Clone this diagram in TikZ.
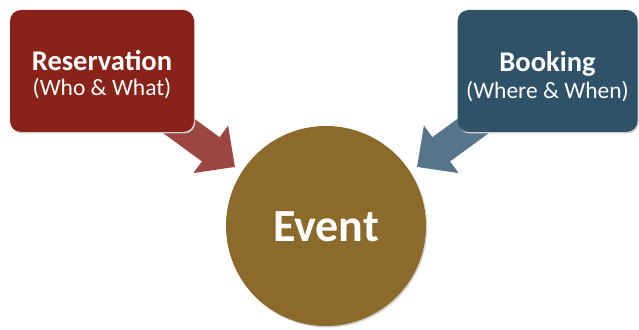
\documentclass[tikz,border=0pt]{standalone}
\usepackage{fontspec}
\setmainfont{Carlito}
\usetikzlibrary{arrows.meta}
\definecolor{boxred}{RGB}{137,35,26}
\definecolor{boxblue}{RGB}{47,82,104}
\definecolor{arrred}{RGB}{156,70,66}
\definecolor{arrblue}{RGB}{86,117,138}
\definecolor{evbrown}{RGB}{140,106,43}
\tikzset{
  infobox/.style={rounded corners=11pt, minimum width=#1, minimum height=122pt, inner sep=0pt, text=white, align=center},
  blockarrow/.style={line width=30pt, -{Triangle[length=30pt,width=57pt]}, draw=#1},
  evcircle/.style={circle, fill=evbrown, minimum size=200pt, inner sep=0pt, text=white},
  shadowed/.style={preaction={fill=black!18, transform canvas={xshift=1.2pt,yshift=-1.5pt}}},
  titletext/.style={font=\bfseries\fontsize{28.5}{31}\selectfont, inner sep=0pt, text=white},
  subtext/.style={font=\fontsize{23.5}{27}\selectfont, inner sep=0pt, text=white}
}
\begin{document}
\begin{tikzpicture}[x=1pt,y=1pt]
\useasboundingbox (0,0) rectangle (639,329);
% connectors (drawn first, boxes on top)
\coordinate (rstart) at (146,227);
\coordinate (rtip) at (235,162);
\coordinate (bstart) at (506,227);
\coordinate (btip) at (417,162);
\draw[blockarrow=arrred] (rstart) -- (rtip);
\draw[blockarrow=arrblue] (bstart) -- (btip);
% boxes
\node[infobox=184pt, fill=boxred, shadowed] (res) at (102,258) {};
\node[infobox=180pt, fill=boxblue, shadowed] (book) at (547.5,258) {};
\node[titletext] (restitle) at (102,268) {Reservation};
\node[subtext] (ressub) at (102,240) {(Who \& What)};
\node[titletext] (booktitle) at (547.5,265) {Booking};
\node[subtext] (booksub) at (547.5,237) {(Where \& When)};
% event
\node[evcircle, shadowed] (event) at (326,103) {};
\node[font=\bfseries\fontsize{46}{50}\selectfont, text=white] (evtext) at (326,102) {Event};
\end{tikzpicture}
\end{document}
